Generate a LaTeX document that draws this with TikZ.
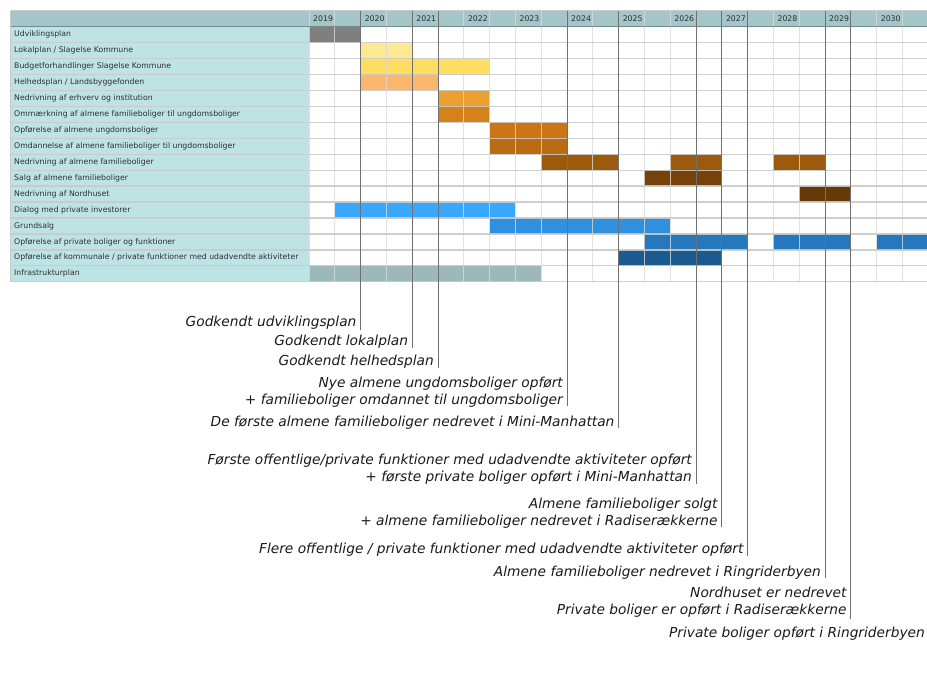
\documentclass[tikz,border=0pt]{standalone}
\usepackage{fontspec}
\setmainfont{DejaVu Sans}
\definecolor{hdr}{HTML}{A5C6C8}
\definecolor{labc}{HTML}{BEE3E4}
\definecolor{gridv}{HTML}{DADADA}
\definecolor{gridh}{HTML}{CACACA}
\definecolor{msline}{HTML}{707070}
\definecolor{txt}{HTML}{2E2E2E}
\definecolor{anntxt}{HTML}{1A1A1A}
\definecolor{c0}{HTML}{7F7F7F}
\definecolor{c1}{HTML}{FEE891}
\definecolor{c2}{HTML}{FEDD60}
\definecolor{c3}{HTML}{FDB76C}
\definecolor{c4}{HTML}{ECA030}
\definecolor{c5}{HTML}{D5821A}
\definecolor{c6}{HTML}{CB7517}
\definecolor{c7}{HTML}{B96C12}
\definecolor{c8}{HTML}{9C5A0C}
\definecolor{c9}{HTML}{75420A}
\definecolor{c10}{HTML}{663A06}
\definecolor{c11}{HTML}{38A8FE}
\definecolor{c12}{HTML}{3090E0}
\definecolor{c13}{HTML}{2578BC}
\definecolor{c14}{HTML}{1B5A8E}
\definecolor{c15}{HTML}{9CB8BA}
\tikzset{
  lbl/.style={anchor=west,inner sep=0pt,text=txt,font=\fontsize{7.8}{9}\selectfont},
  yr/.style={anchor=west,inner sep=0pt,text=txt,font=\fontsize{7.8}{9}\selectfont},
  ann/.style={anchor=base east,inner sep=0pt,text=anntxt,font=\fontsize{13.8}{16}\selectfont\itshape},
  vgrid/.style={draw=gridv,line width=0.9bp,opacity=0.8},
  hgrid/.style={draw=gridh,line width=1.3bp,opacity=0.9},
  msl/.style={draw=msline,line width=0.9bp},
}
\newcommand\gbar[4]{\fill[#4] ({309+#2*25.8},{26.7+#1*15.94}) rectangle ({309+(#3+1)*25.8},{26.7+(#1+1)*15.94});}
\begin{document}
\begin{tikzpicture}[x=1bp,y=-1bp]
\useasboundingbox (0,0) rectangle (927,675);
\clip (0,0) rectangle (927,675);
\fill[white] (0,0) rectangle (927,675);
% header and label column
\fill[hdr] (10.5,10.7) rectangle (930,26.7);
\fill[labc] (10.5,26.7) rectangle (309,281.7);
% bars
\gbar{0}{0}{1}{c0}
\gbar{1}{2}{3}{c1}
\gbar{2}{2}{6}{c2}
\gbar{3}{2}{4}{c3}
\gbar{4}{5}{6}{c4}
\gbar{5}{5}{6}{c5}
\gbar{6}{7}{9}{c6}
\gbar{7}{7}{9}{c7}
\gbar{8}{9}{11}{c8}
\gbar{8}{14}{15}{c8}
\gbar{8}{18}{19}{c8}
\gbar{9}{13}{15}{c9}
\gbar{10}{19}{20}{c10}
\gbar{11}{1}{7}{c11}
\gbar{12}{7}{13}{c12}
\gbar{13}{13}{16}{c13}
\gbar{13}{18}{20}{c13}
\gbar{13}{22}{23}{c13}
\gbar{14}{12}{15}{c14}
\gbar{15}{0}{8}{c15}
% grid
\foreach \c in {0,...,24} \draw[vgrid] ({309+\c*25.8},10.7) -- ({309+\c*25.8},281.7);
\foreach \r in {0,...,16} \draw[hgrid] (10.5,{26.7+\r*15.94}) -- (930,{26.7+\r*15.94});
\draw[draw=gridh,line width=1.3bp] (10.5,10.7) -- (930,10.7);
\draw[draw=gridh,line width=1bp] (10.5,10.7) -- (10.5,281.7);
\draw[draw=hdr!70!black,line width=1bp] (10.5,26.7) -- (930,26.7);
% years
\foreach \y [count=\i from 0] in {2019,2020,2021,2022,2023,2024,2025,2026,2027,2028,2029,2030}
  \node[yr] (y\y) at ({309+\i*2*25.8+4},18.9) {\y};
% row labels
\foreach \t [count=\i from 0] in {Udviklingsplan,Lokalplan / Slagelse Kommune,Budgetforhandlinger Slagelse Kommune,Helhedsplan / Landsbyggefonden,Nedrivning af erhverv og institution,Ommærkning af almene familieboliger til ungdomsboliger,Opførelse af almene ungdomsboliger,Omdannelse af almene familieboliger til ungdomsboliger,Nedrivning af almene familieboliger,Salg af almene familieboliger,Nedrivning af Nordhuset,Dialog med private investorer,Grundsalg,Opførelse af private boliger og funktioner,Opførelse af kommunale / private funktioner med udadvendte aktiviteter,Infrastrukturplan}
  \node[lbl] (r\i) at (14,{26.7+(\i+0.5)*15.94}) {\t};
% milestones
\foreach \n/\c/\e in {1/2/330,2/4/348,3/5/368,4/10/406,5/12/428,6/15/484,7/16/527,8/17/556,9/20/578,10/21/619}{
  \coordinate (t\n) at ({309+\c*25.8},10.7);
  \coordinate (b\n) at ({309+\c*25.8},\e);
  \draw[msl] (t\n) -- (b\n);
}
\node[ann] (a1) at ([xshift=-4bp,yshift=3.5bp]b1) {Godkendt udviklingsplan};
\node[ann] (a2) at ([xshift=-4bp,yshift=2.5bp]b2) {Godkendt lokalplan};
\node[ann] (a3) at ([xshift=-4bp,yshift=2.5bp]b3) {Godkendt helhedsplan};
\node[ann] (a4a) at ([xshift=-4bp,yshift=19bp]b4) {Nye almene ungdomsboliger opført};
\node[ann] (a4b) at ([xshift=-4bp,yshift=2bp]b4) {+ familieboliger omdannet til ungdomsboliger};
\node[ann] (a5) at ([xshift=-4bp,yshift=1.5bp]b5) {De første almene familieboliger nedrevet i Mini-Manhattan};
\node[ann] (a6a) at ([xshift=-4bp,yshift=20bp]b6) {Første offentlige/private funktioner med udadvendte aktiviteter opført};
\node[ann] (a6b) at ([xshift=-4bp,yshift=3bp]b6) {+ første private boliger opført i Mini-Manhattan};
\node[ann] (a7a) at ([xshift=-4bp,yshift=19bp]b7) {Almene familieboliger solgt};
\node[ann] (a7b) at ([xshift=-4bp,yshift=2bp]b7) {+ almene familieboliger nedrevet i Radiserækkerne};
\node[ann] (a8) at ([xshift=-4bp,yshift=3bp]b8) {Flere offentlige / private funktioner med udadvendte aktiviteter opført};
\node[ann] (a9) at ([xshift=-4bp,yshift=2bp]b9) {Almene familieboliger nedrevet i Ringriderbyen};
\node[ann] (a10a) at ([xshift=-4bp,yshift=22bp]b10) {Nordhuset er nedrevet};
\node[ann] (a10b) at ([xshift=-4bp,yshift=5bp]b10) {Private boliger er opført i Radiserækkerne};
\node[ann] (a11) at (925,637) {Private boliger opført i Ringriderbyen};
\end{tikzpicture}
\end{document}
